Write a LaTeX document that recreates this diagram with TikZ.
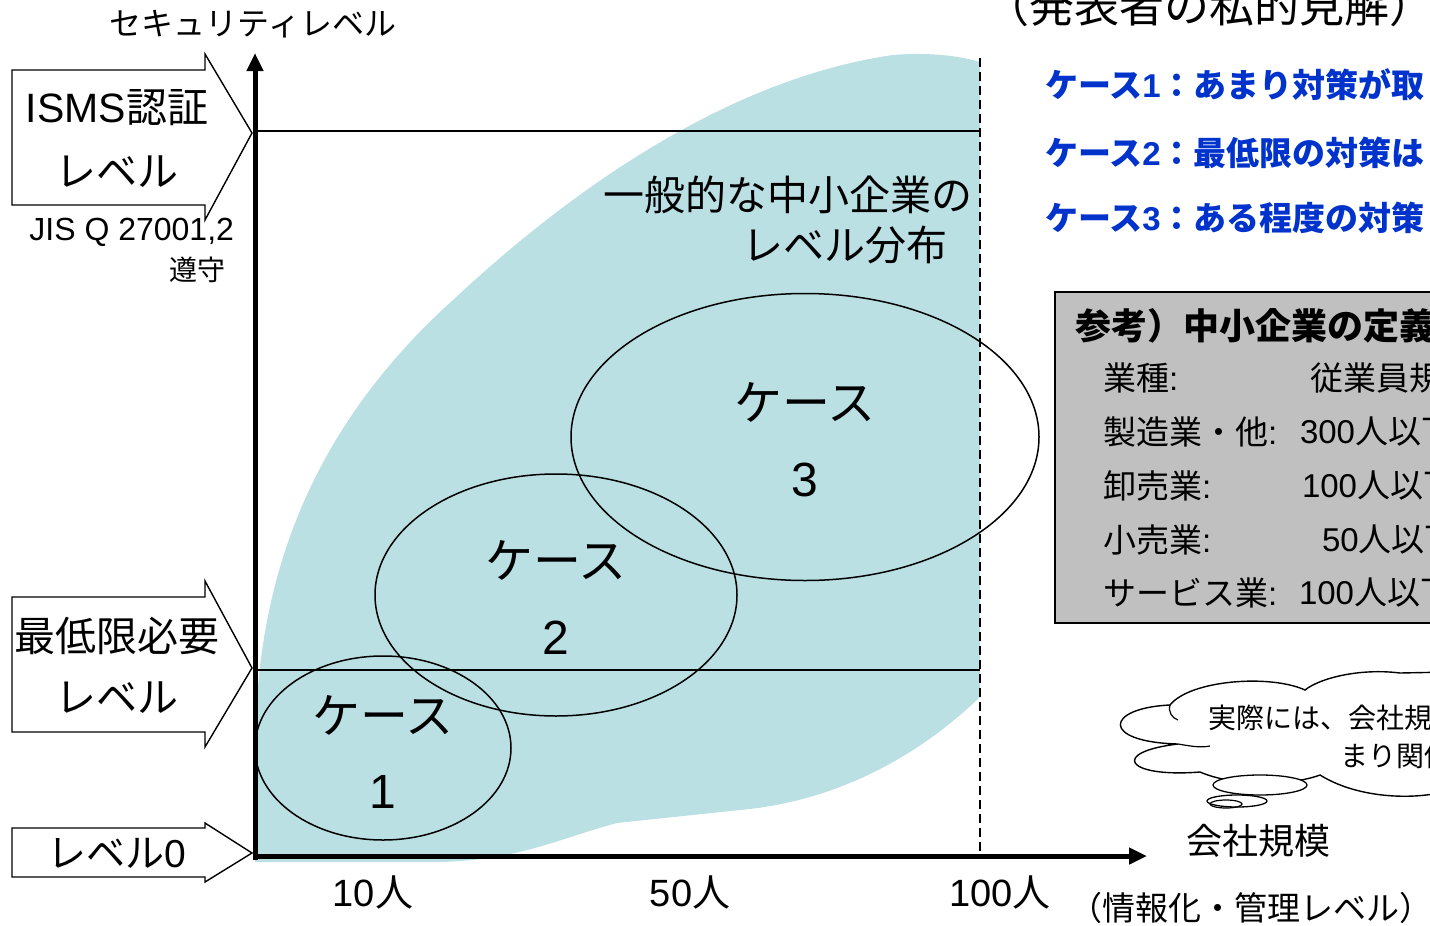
\documentclass[tikz,border=0pt]{standalone}
\usepackage{fontspec}
\setmainfont{Noto Sans CJK JP}
\newfontfamily\lat{Liberation Sans}
\usetikzlibrary{arrows.meta,shapes.geometric}
\definecolor{blobblue}{RGB}{186,224,228}
\definecolor{caseblue}{RGB}{0,51,204}
\definecolor{boxgray}{RGB}{192,192,192}
\newcommand\fsz[1]{\fontsize{#1}{#1}\selectfont}
\begin{document}
\begin{tikzpicture}[x=1pt,y=-1pt,
  thinline/.style={line width=1.5pt},
  lbl/.style={inner sep=0pt,outer sep=0pt},
  blockarrow/.style={line width=1.4pt,fill=white,line join=miter},
  axis/.style={line width=5pt,-{Triangle[length=18pt,width=16pt]}},
  bluetxt/.style={lbl,anchor=west,text=caseblue,font=\fsz{33}\bfseries},
  boxtxt/.style={lbl,anchor=west,font=\fsz{33}},
  casebox/.style={draw,ellipse,line width=1.5pt,inner sep=0pt}]
\useasboundingbox (0,0) rectangle (1430,926);
\clip (0,0) rectangle (1430,926);
\fill[white] (0,0) rectangle (1430,926);

% distribution blob
\fill[blobblue] (256,720) .. controls (262,560) and (320,420) .. (453,300)
  .. controls (560,200) and (720,80) .. (893,55)
  .. controls (930,52) and (960,56) .. (980,62) -- (980,697)
  .. controls (930,745) and (850,800) .. (740,810) -- (617,823)
  .. controls (560,838) and (520,860) .. (440,862) -- (255,862) -- cycle;

% coordinates
\coordinate (O) at (255,860);
\coordinate (Ytop) at (255,53);
\coordinate (Xs) at (253,856);
\coordinate (Xend) at (1147,856);
\coordinate (L1a) at (255,131);
\coordinate (L1b) at (980,131);
\coordinate (L2a) at (255,670);
\coordinate (L2b) at (980,670);
\coordinate (Da) at (980,58);
\coordinate (Db) at (980,856);

\draw[thinline] (L1a) -- (L1b);
\draw[thinline] (L2a) -- (L2b);
\draw[line width=2.5pt,dash pattern=on 9pt off 5pt] (Da) -- (Db);

% case ellipses
\node[casebox,minimum width=256pt,minimum height=184pt] (e1) at (383,748) {};
\node[casebox,minimum width=362pt,minimum height=242pt] (e2) at (556,595) {};
\node[casebox,minimum width=468pt,minimum height=287pt] (e3) at (805,437) {};
\node[lbl,font=\fsz{48}] (c1a) at (383,715) {ケース};
\node[lbl,font=\fsz{48}\lat] (c1b) at (383,792) {1};
\node[lbl,font=\fsz{48}] (c2a) at (556,560) {ケース};
\node[lbl,font=\fsz{48}\lat] (c2b) at (556,638) {2};
\node[lbl,font=\fsz{48}] (c3a) at (805,402) {ケース};
\node[lbl,font=\fsz{48}\lat] (c3b) at (805,480) {3};

% axes
\draw[axis] (O) -- (Ytop);
\draw[axis] (Xs) -- (Xend);

% block arrows
\draw[blockarrow] (12,70) -- (205,70) -- (205,54) -- (252,133) -- (205,220) -- (205,205) -- (12,205) -- cycle;
\draw[blockarrow] (12,597) -- (205,597) -- (205,581) -- (252,668) -- (205,747) -- (205,732) -- (12,732) -- cycle;
\draw[blockarrow] (12,828) -- (205,828) -- (205,823) -- (252,853) -- (205,882) -- (205,877) -- (12,877) -- cycle;
\node[lbl,font=\fsz{41}] (isms1) at (117,108) {{\lat ISMS}認証};
\node[lbl,font=\fsz{41}] (isms2) at (117,172) {レベル};
\node[lbl,anchor=east,font=\fsz{32}\lat] (jis1) at (234,232) {JIS Q 27001,2};
\node[lbl,font=\fsz{28}] (jis2) at (197,270) {遵守};
\node[lbl,font=\fsz{41}] (min1) at (117,636) {最低限必要};
\node[lbl,font=\fsz{41}] (min2) at (117,698) {レベル};
\node[lbl,font=\fsz{39}] (lv0) at (117,853) {レベル{\lat 0}};

% axis labels
\node[lbl,font=\fsz{32}] (ylab) at (253,24) {セキュリティレベル};
\node[lbl,font=\fsz{38}] (n10) at (373,892) {{\lat 10}人};
\node[lbl,font=\fsz{38}] (n50) at (690,892) {{\lat 50}人};
\node[lbl,font=\fsz{38}] (n100) at (1000,892) {{\lat 100}人};
\node[lbl,font=\fsz{36}] (size) at (1258,841) {会社規模};
\node[lbl,anchor=east,font=\fsz{33}] (info) at (1432,908) {（情報化・管理レベル）};

% distribution label
\node[lbl,anchor=east,font=\fsz{41}] (dist1) at (972,195) {一般的な中小企業の};
\node[lbl,font=\fsz{41}] (dist2) at (845,245) {レベル分布};

% title and case list
\node[lbl,anchor=west,font=\fsz{45}] (title) at (984,5) {（発表者の私的見解）};
\node[bluetxt] (k1) at (1045,85) {ケース{\lat 1}：あまり対策が取};
\node[bluetxt] (k2) at (1045,153) {ケース{\lat 2}：最低限の対策は};
\node[bluetxt] (k3) at (1045,218) {ケース{\lat 3}：ある程度の対策};

% definition box
\draw[line width=2pt,fill=boxgray] (1055,292) rectangle (1460,623);
\node[boxtxt,font=\fsz{36}\bfseries] (def) at (1075,326) {参考）中小企業の定義};
\node[boxtxt] (r0a) at (1103,378) {業種{\lat :}};
\node[boxtxt] (r0b) at (1310,378) {従業員規模};
\node[boxtxt] (r1a) at (1103,432) {製造業・他{\lat :}};
\node[boxtxt] (r1b) at (1300,432) {{\lat 300}人以下};
\node[boxtxt] (r2a) at (1103,486) {卸売業{\lat :}};
\node[boxtxt] (r2b) at (1302,486) {{\lat 100}人以下};
\node[boxtxt] (r3a) at (1103,540) {小売業{\lat :}};
\node[boxtxt] (r3b) at (1322,540) {{\lat 50}人以下};
\node[boxtxt] (r4a) at (1103,593) {サービス業{\lat :}};
\node[boxtxt] (r4b) at (1299,593) {{\lat 100}人以下};

% cloud
\draw[line width=1.4pt,fill=white] (1170,705)
  .. controls (1105,708) and (1100,742) .. (1178,744)
  .. controls (1110,752) and (1125,778) .. (1200,772)
  .. controls (1235,787) and (1290,786) .. (1320,775)
  .. controls (1360,800) and (1420,800) .. (1450,790)
  -- (1450,672) -- (1400,673)
  .. controls (1360,668) and (1320,678) .. (1305,690)
  .. controls (1270,674) and (1190,680) .. (1170,705) -- cycle;
\draw[line width=1.2pt] (1170,705) .. controls (1168,712) and (1172,718) .. (1178,720);
\draw[line width=1.2pt] (1178,744) .. controls (1190,746) and (1200,748) .. (1210,746);
\node[draw,ellipse,line width=1.3pt,fill=white,minimum width=94pt,minimum height=20pt,inner sep=0pt] (b1) at (1260,785) {};
\node[draw,ellipse,line width=1.3pt,fill=white,minimum width=60pt,minimum height=12pt,inner sep=0pt] (b2) at (1237,801) {};
\node[draw,ellipse,line width=1.2pt,minimum width=32pt,minimum height=8pt,inner sep=0pt] (b3) at (1226,804) {};
\node[lbl,anchor=west,font=\fsz{28}] (cl1) at (1208,718) {実際には、会社規模};
\node[lbl,anchor=west,font=\fsz{28}] (cl2) at (1340,756) {まり関係};
\end{tikzpicture}
\end{document}
